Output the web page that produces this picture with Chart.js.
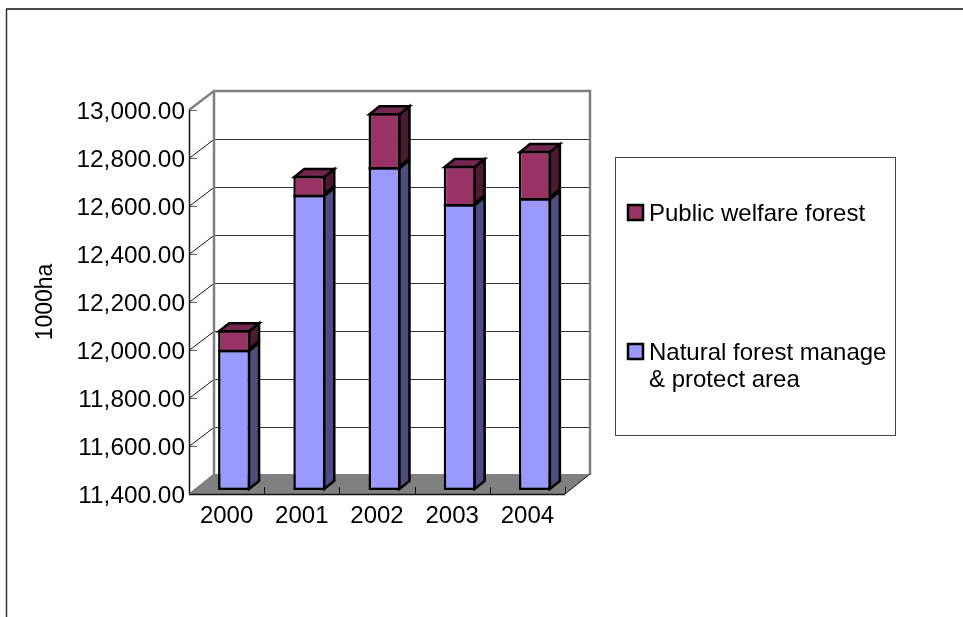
<!DOCTYPE html>
<html>
<head>
<meta charset="utf-8">
<title>Forest area</title>
<script src="https://cdn.jsdelivr.net/npm/chart.js@4/dist/chart.umd.js"></script>
<style>
  html, body { margin: 0; padding: 0; background: #fff; overflow: hidden; }
  canvas { display: block; }
</style>
</head>
<body>
<canvas id="forestChart" width="963" height="617"></canvas>
<script>
// ── Data ─────────────────────────────────────────────
const YEARS = ['2000', '2001', '2002', '2003', '2004'];
const NATURAL = [11983, 12629, 12745, 12591, 12616];
const WELFARE = [83, 79, 225, 159, 196];
const NATURAL_LABEL = ['Natural forest manage', '& protect area'];
const WELFARE_LABEL = ['Public welfare forest'];
const Y_MIN = 11400;
const Y_MAX = 13000;

const FONT = '"Liberation Sans", Arial, sans-serif';

// Fake 3D offsets
const WALL_DX = 25, WALL_DY = -19;
const BAR_DX = 7.5, BAR_DY = -4;
const FACE_DX = 10, FACE_DY = -8;
const EDGE = 2.5;

function poly(ctx, pts, fill, stroke, lw) {
  ctx.beginPath();
  pts.forEach((p, i) => i ? ctx.lineTo(p[0], p[1]) : ctx.moveTo(p[0], p[1]));
  ctx.closePath();
  if (fill) { ctx.fillStyle = fill; ctx.fill(); }
  if (stroke) { ctx.strokeStyle = stroke; ctx.lineWidth = lw; ctx.stroke(); }
}

function line(ctx, x1, y1, x2, y2, color, lw) {
  ctx.beginPath();
  ctx.moveTo(x1, y1);
  ctx.lineTo(x2, y2);
  ctx.strokeStyle = color;
  ctx.lineWidth = lw;
  ctx.stroke();
}

// Outer frame (only top and left are visible in the picture)
const framePlugin = {
  id: 'outerFrame',
  beforeDraw(chart) {
    const { ctx, width, height } = chart;
    ctx.save();
    line(ctx, 6, 9, width, 9, '#111', 1.5);
    line(ctx, 6.5, 9, 6.5, height, '#333', 1.5);
    ctx.restore();
  }
};

// Walls, floor, grid lines
const wallPlugin = {
  id: 'walls',
  beforeDatasetsDraw(chart) {
    const { ctx, chartArea: a, scales } = chart;
    const y = scales.y, x = scales.x;
    ctx.save();
    poly(ctx, [[a.left, a.bottom], [a.left + WALL_DX, a.bottom + WALL_DY - 1],
      [a.right + WALL_DX, a.bottom + WALL_DY - 1], [a.right, a.bottom]], '#808080');

    y.ticks.forEach(t => {
      const py = Math.round(y.getPixelForValue(t.value)) + 0.5;
      if (t.value === y.min) return;
      if (t.value !== y.max) {
        line(ctx, a.left + WALL_DX, py + WALL_DY, a.right + WALL_DX, py + WALL_DY, '#333', 1);
        line(ctx, a.left, py, a.left + WALL_DX, py + WALL_DY, '#111', 1);
      }
      line(ctx, a.left, py, a.left + 8, py, '#666', 1);
    });

    // back wall edges
    ctx.beginPath();
    ctx.moveTo(a.left, a.top);
    ctx.lineTo(a.left + WALL_DX, a.top + WALL_DY);
    ctx.lineTo(a.right + WALL_DX, a.top + WALL_DY);
    ctx.lineTo(a.right + WALL_DX, a.bottom + WALL_DY);
    ctx.strokeStyle = '#808080';
    ctx.lineWidth = EDGE;
    ctx.stroke();
    line(ctx, a.left + WALL_DX, a.top + WALL_DY, a.left + WALL_DX, a.bottom + WALL_DY, '#808080', EDGE);

    // front axes
    line(ctx, a.left + 0.5, a.top, a.left + 0.5, a.bottom, '#111', 1.5);
    line(ctx, a.left, a.bottom + 0.5, a.right, a.bottom + 0.5, '#111', 1.5);
    line(ctx, a.right, a.bottom, a.right + WALL_DX, a.bottom + WALL_DY - 1, '#111', 1);
    line(ctx, a.left, a.bottom, a.left + WALL_DX, a.bottom + WALL_DY - 1, '#666', 1);
    const step = (a.right - a.left) / YEARS.length;
    YEARS.forEach((_, i) => {
      const px = Math.round(x.getPixelForValue(i) + step / 2) + 0.5;
      line(ctx, px, a.bottom - 7, px, a.bottom, '#111', 1);
    });
    ctx.restore();

    // bars sit in the middle of the depth
    ctx.save();
    ctx.translate(BAR_DX, BAR_DY);
  },
  afterDatasetsDraw(chart) {
    const { ctx } = chart;
    chart.data.datasets.forEach((ds, di) => {
      chart.getDatasetMeta(di).data.forEach(bar => {
        const hw = bar.width / 2;
        const r = bar.x + hw - 1, l = bar.x - hw + 1;
        const t = bar.y + 1, b = bar.base - 1;
        poly(ctx, [[r, t], [r + FACE_DX, t + FACE_DY], [r + FACE_DX, b + FACE_DY], [r, b]],
          ds.sideColor, '#000', EDGE);
        if (di === chart.data.datasets.length - 1) {
          poly(ctx, [[l, t], [l + FACE_DX, t + FACE_DY], [r + FACE_DX, t + FACE_DY], [r, t]],
            ds.topColor, '#000', EDGE);
          // seam between the two stacked parts
          line(ctx, bar.x - hw, bar.base + 1, bar.x + hw, bar.base + 1, '#000', EDGE);
        }
      });
    });
    ctx.restore();
  }
};

// Legend box with a wrapped entry
const legendPlugin = {
  id: 'boxLegend',
  afterDraw(chart) {
    const { ctx } = chart;
    const boxX = 615, boxY = 157, boxW = 280, boxH = 278;
    ctx.save();
    ctx.strokeStyle = '#444';
    ctx.lineWidth = 1;
    ctx.strokeRect(boxX + 0.5, boxY + 0.5, boxW, boxH);
    ctx.font = '24px ' + FONT;
    ctx.textBaseline = 'alphabetic';
    const rows = [
      { ds: chart.data.datasets[1], swatchY: 205, textY: 221 },
      { ds: chart.data.datasets[0], swatchY: 344, textY: 360 }
    ];
    rows.forEach(r => {
      ctx.fillStyle = r.ds.backgroundColor;
      ctx.strokeStyle = '#000';
      ctx.lineWidth = EDGE;
      ctx.fillRect(628, r.swatchY, 15, 15);
      ctx.strokeRect(628, r.swatchY, 15, 15);
      ctx.fillStyle = '#000';
      r.ds.legendLines.forEach((txt, i) => ctx.fillText(txt, 649, r.textY + i * 27));
    });
    ctx.restore();
  }
};

new Chart(document.getElementById('forestChart'), {
  type: 'bar',
  plugins: [framePlugin, wallPlugin, legendPlugin],
  data: {
    labels: YEARS,
    datasets: [
      {
        label: NATURAL_LABEL.join(' '),
        legendLines: NATURAL_LABEL,
        data: NATURAL,
        base: Y_MIN,
        backgroundColor: '#9999FF',
        sideColor: '#4D4D80',
        borderColor: '#000',
        borderWidth: EDGE,
        borderSkipped: false,
        categoryPercentage: 1,
        barPercentage: 0.425,
        clip: false
      },
      {
        label: WELFARE_LABEL[0],
        legendLines: WELFARE_LABEL,
        data: WELFARE,
        backgroundColor: '#993366',
        sideColor: '#4D1A33',
        topColor: '#732650',
        borderColor: '#000',
        borderWidth: { top: EDGE, left: EDGE, right: EDGE, bottom: 0 },
        borderSkipped: false,
        categoryPercentage: 1,
        barPercentage: 0.425,
        clip: false
      }
    ]
  },
  options: {
    responsive: false,
    animation: false,
    layout: { padding: { left: 0, top: 110, right: 398, bottom: 0 } },
    plugins: { legend: { display: false }, tooltip: { enabled: false } },
    scales: {
      x: {
        stacked: true,
        grid: { display: false },
        border: { display: false },
        ticks: { color: '#000', font: { family: FONT, size: 24 }, padding: 0, maxRotation: 0 },
        afterFit(s) { s.height = 123; }
      },
      y: {
        stacked: true,
        min: Y_MIN,
        max: Y_MAX,
        grid: { display: false },
        border: { display: false },
        ticks: {
          stepSize: 200,
          color: '#000',
          padding: -4,
          labelOffset: 2,
          font: { family: FONT, size: 24.4 },
          callback: v => v.toLocaleString('en-US', { minimumFractionDigits: 2, maximumFractionDigits: 2 })
        },
        title: {
          display: true,
          text: '1000ha',
          color: '#000',
          font: { family: FONT, size: 23 },
          padding: { top: 32, bottom: 0 }
        },
        afterFit(s) { s.width = 189; }
      }
    }
  }
});
</script>
</body>
</html>
